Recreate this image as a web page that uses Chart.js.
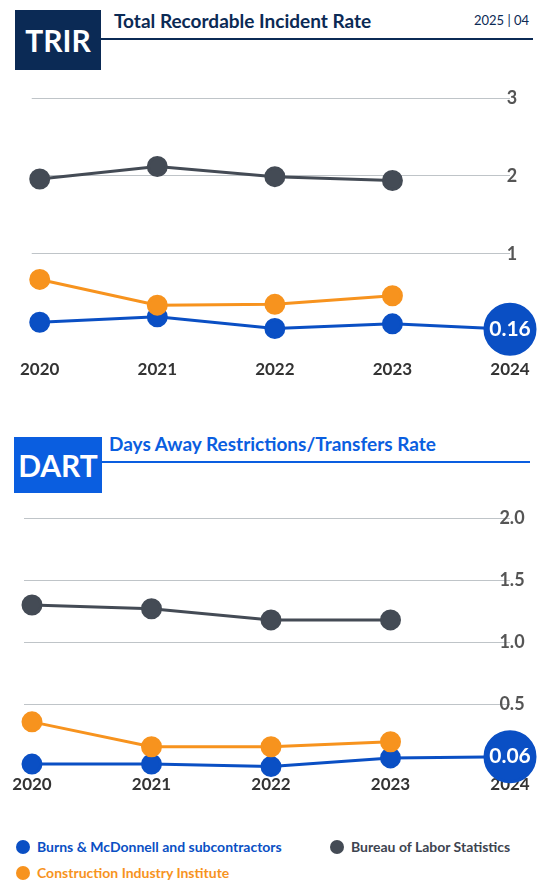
<!DOCTYPE html>
<html><head><meta charset="utf-8">
<script src="https://cdn.jsdelivr.net/npm/chart.js@4/dist/chart.umd.min.js"></script>
<style>
body{margin:0;width:550px;height:893px;background:#fff;font-family:Lato,sans-serif;position:relative;overflow:hidden}
.abs{position:absolute}
.box{color:#fff;font-weight:700;font-size:30px;display:flex;align-items:center;justify-content:center}
.leg{font-size:14px;font-weight:700;display:flex;align-items:center}
.dot{width:14px;height:14px;border-radius:50%;display:inline-block;margin-right:7px}
</style></head><body>
<div class="abs box" style="left:15px;top:10px;width:86px;height:60px;background:#0b2a55">TRIR</div>
<div class="abs" style="left:114px;top:9px;font-size:19px;font-weight:700;color:#0b2a55">Total Recordable Incident Rate</div>
<div class="abs" style="left:101px;top:38px;width:432px;height:2px;background:#0b2a55"></div>
<div class="abs" style="left:474px;top:12px;font-size:13px;color:#0b2a55">2025 | 04</div>
<div class="abs" style="left:0;top:70px;width:550px;height:330px"><canvas id="c1"></canvas></div>

<div class="abs box" style="left:14px;top:437px;width:88px;height:56px;background:#0a5ee0">DART</div>
<div class="abs" style="left:109px;top:432px;font-size:19px;font-weight:700;color:#0a5ee0">Days Away Restrictions/Transfers Rate</div>
<div class="abs" style="left:102px;top:461px;width:428px;height:2px;background:#0a5ee0"></div>
<div class="abs" style="left:0;top:490px;width:550px;height:305px"><canvas id="c2"></canvas></div>

<div class="abs leg" style="left:16px;top:838px;color:#0a4fc4"><span class="dot" style="background:#0a4fc4"></span>Burns &amp; McDonnell and subcontractors</div>
<div class="abs leg" style="left:330px;top:838px;color:#3d4450"><span class="dot" style="background:#444b55"></span>Bureau of Labor Statistics</div>
<div class="abs leg" style="left:16px;top:864px;color:#f7931e"><span class="dot" style="background:#f7931e"></span>Construction Industry Institute</div>
<script>
const years=['2020','2021','2022','2023','2024'];
const trirBMcD=[0.12,0.19,0.04,0.10,0.03];
const trirBLS=[1.96,2.12,1.99,1.94,null];
const trirCII=[0.67,0.34,0.35,0.46,null];
const trirTicks=[1,2,3];
const trirLabel='0.16';
const dartBMcD=[0.02,0.02,0.00,0.07,0.08];
const dartBLS=[1.30,1.27,1.18,1.18,null];
const dartCII=[0.36,0.16,0.16,0.20,null];
const dartTicks=[0.5,1.0,1.5,2.0];
const dartLabel='0.06';
const BLUE='#0a4fc4',GREY='#444b55',ORANGE='#f7931e';
function ds(d,c,big){return {data:d,borderColor:c,backgroundColor:c,borderWidth:3,pointRadius:big?[9,9,9,9,25]:9,pointHoverRadius:9,clip:false,spanGaps:false};}
function make(id,a,b,c,ticks,max,label,fixed,padB){
 const plug={id:'p'+id,afterDatasetsDraw(ch){
   const x=ch.ctx,y=ch.scales.y,area=ch.chartArea;
   x.save();x.font='bold 18px Lato';x.fillStyle='#555';x.textAlign='center';x.textBaseline='middle';
   ticks.forEach(t=>x.fillText(fixed?t.toFixed(1):String(t),area.right+2,y.getPixelForValue(t)));
   const m=ch.getDatasetMeta(2).data[4];
   x.fillStyle='#fff';x.font='bold 21px Lato';x.fillText(label,m.x,m.y);
   x.restore();}};
 new Chart(document.getElementById(id),{type:'line',
  data:{labels:years,datasets:[ds(c,ORANGE),ds(b,GREY),ds(a,BLUE,true)]},
  options:{responsive:true,maintainAspectRatio:false,animation:false,
   layout:{padding:{left:24,right:40,top:24,bottom:0}},
   plugins:{legend:{display:false},tooltip:{enabled:false}},
   scales:{x:{offset:false,grid:{display:false},border:{display:false},
      ticks:{color:'#333',font:{family:'Lato',size:17,weight:'bold'},padding:padB,maxRotation:0}},
    y:{min:0,max:max,afterBuildTicks(s){s.ticks=ticks.map(v=>({value:v}));},
      grid:{color:'#bfc4c8',lineWidth:1},border:{display:false},ticks:{display:false}}}},
  plugins:[plug]});
}
make('c1',trirBMcD,trirBLS,trirCII,trirTicks,3,trirLabel,false,20);
make('c2',dartBMcD,dartBLS,dartCII,dartTicks,2,dartLabel,true,0);
</script></body></html>
